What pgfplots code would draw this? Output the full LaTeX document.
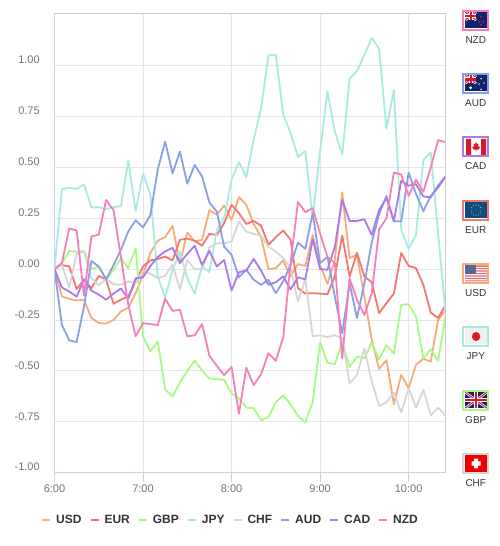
\documentclass[border=0pt]{standalone}
\usepackage{pgfplots}
\pgfplotsset{compat=1.18}
\usepackage{fontspec}
\setmainfont{Liberation Sans}
\definecolor{cUSD}{HTML}{F7AB76}
\definecolor{cEUR}{HTML}{F4776D}
\definecolor{cGBP}{HTML}{A5FB84}
\definecolor{cJPY}{HTML}{A8EBE0}
\definecolor{cCHF}{HTML}{D6D6D6}
\definecolor{cAUD}{HTML}{8A9FEA}
\definecolor{cCAD}{HTML}{A97AE8}
\definecolor{cNZD}{HTML}{F67FB9}
\definecolor{axisblue}{HTML}{C6D2EA}
\definecolor{flagblue}{HTML}{10246E}
\definecolor{flagred}{HTML}{D8182C}
\definecolor{eublue}{HTML}{0F4C81}
% one small flag: #1 = top of the frame in picture px, #2 = colour, #3 = label, #4 = drawing
\newcommand{\flagbox}[4]{%
  \begin{scope}[shift={(407.8pt,{459pt+14pt-#1pt-21pt})}]
    \fill[white] (0,0) rectangle (27pt,21pt);
    \begin{scope}[shift={(2.8pt,2.5pt)},yscale=1.0667]
      \clip (0,0) rectangle (22pt,15pt);
      #4
    \end{scope}
    \draw[#2,line width=2pt] (1pt,1pt) rectangle (26pt,20pt);
    \node[font=\fontsize{10}{12}\selectfont,text=black!80,anchor=center] at (13.5pt,-9pt) {#3};
  \end{scope}}
\newcommand{\ukcorner}{%
  \fill[flagblue] (0,0) rectangle (22pt,15pt);
  \draw[white,line width=2.4pt] (0,0)--(22pt,15pt) (0,15pt)--(22pt,0);
  \draw[flagred,line width=1pt] (0,0)--(22pt,15pt) (0,15pt)--(22pt,0);
  \draw[white,line width=4pt] (11pt,0)--(11pt,15pt) (0,7.5pt)--(22pt,7.5pt);
  \draw[flagred,line width=2.2pt] (11pt,0)--(11pt,15pt) (0,7.5pt)--(22pt,7.5pt);}
\newcommand{\ausjack}{%
  \fill[flagblue] (0,0) rectangle (22pt,15pt);
  \begin{scope}[shift={(0,7.5pt)},scale=.5]\ukcorner\end{scope}}
\begin{document}
\begin{tikzpicture}[x=1pt,y=1pt]
\useasboundingbox (-54.5pt,-73.3pt) rectangle (445.5pt,472.7pt);
\begin{axis}[
  at={(0pt,0pt)},anchor=south west,
  scale only axis,width=391pt,height=459pt,
  xmin=0,xmax=53,ymin=-1,ymax=1.255,
  axis line style={draw=none},
  grid=major,
  major grid style={draw=black!10,line width=1pt},
  xtick={0,12,24,36,48},
  xticklabels={6:00,7:00,8:00,9:00,10:00},
  ytick={-1,-0.75,-0.5,-0.25,0,0.25,0.5,0.75,1},
  yticklabels={-1.00,-0.75,-0.50,-0.25,0.00,0.25,0.50,0.75,1.00},
  xtick align=outside,
  xtick pos=bottom,
  ytick pos=left,
  major tick length=9pt,
  x tick style={draw=axisblue,line width=1pt},
  y tick style={draw=none},
  xticklabel style={font=\fontsize{11}{13}\selectfont,text=black!55,yshift=0pt},
  yticklabel style={font=\fontsize{11}{13}\selectfont,text=black!55,yshift=5.5pt,xshift=-11.3pt},
  legend style={at={(0.4476,-0.103)},anchor=center,draw=none,fill=none,
    font=\fontsize{12}{14}\selectfont\bfseries,text=black!80,
    legend columns=-1,
    /tikz/every even column/.append style={column sep=8pt},
    /tikz/every odd column/.append style={column sep=0pt},
    nodes={inner xsep=0pt,inner ysep=1pt}},
  legend image code/.code={\draw[#1,line width=2pt] (0pt,0pt)--(8pt,0pt);},
  every axis plot/.append style={line width=1.8pt,no markers,line join=round},
  clip mode=individual,
]
\addplot[cUSD] coordinates {(0,0)(1,-.134)(2,-.146)(3,-.154)(4,-.15)(5,-.24)(6,-.265)(7,-.267)(8,-.25)(9,-.208)(10,-.19)(11,-.118)(12,-.028)(13,.08)(14,.14)(15,.157)(16,.213)(17,.03)(18,.18)(19,.136)(20,.144)(21,.29)(22,.267)(23,.313)(24,.242)(25,.354)(26,.316)(27,.222)(28,.157)(29,0)(30,.005)(31,.043)(32,-.036)(33,.025)(34,.016)(35,.168)(36,.02)(37,-.072)(38,.046)(39,.378)(40,.054)(41,.07)(42,-.134)(43,-.347)(44,-.49)(45,-.447)(46,-.664)(47,-.52)(48,-.585)(49,-.47)(50,-.44)(51,-.455)(52,-.25)(53,-.2)};
\addlegendentry{\hspace{5pt}USD}
\addplot[cEUR] coordinates {(0,0)(1,.02)(2,.013)(3,-.098)(4,-.052)(5,-.093)(6,-.033)(7,-.052)(8,-.17)(9,-.15)(10,-.134)(11,-.06)(12,.013)(13,.043)(14,.05)(15,.062)(16,.043)(17,.144)(18,.15)(19,.14)(20,.115)(21,.173)(22,.168)(23,.226)(24,.316)(25,.275)(26,.222)(27,.237)(28,.214)(29,.12)(30,.157)(31,.19)(32,.144)(33,-.093)(34,-.12)(35,-.118)(36,-.12)(37,-.123)(38,-.036)(39,.165)(40,-.036)(41,.08)(42,-.036)(43,-.064)(44,-.216)(45,-.167)(46,-.12)(47,.08)(48,.016)(49,.005)(50,-.077)(51,-.213)(52,-.24)(53,-.175)};
\addlegendentry{\hspace{5pt}EUR}
\addplot[cGBP] coordinates {(0,0)(1,.03)(2,.09)(3,.085)(4,.09)(5,0)(6,.013)(7,-.05)(8,-.003)(9,.054)(10,.005)(11,.103)(12,-.33)(13,-.404)(14,-.355)(15,-.59)(16,-.626)(17,-.557)(18,-.5)(19,-.45)(20,-.497)(21,-.538)(22,-.54)(23,-.544)(24,-.61)(25,-.636)(26,-.68)(27,-.683)(28,-.742)(29,-.727)(30,-.655)(31,-.62)(32,-.664)(33,-.72)(34,-.754)(35,-.652)(36,-.36)(37,-.46)(38,-.467)(39,-.36)(40,-.48)(41,-.43)(42,-.438)(43,-.36)(44,-.443)(45,-.374)(46,-.415)(47,-.175)(48,-.172)(49,-.233)(50,-.44)(51,-.394)(52,-.45)(53,-.233)};
\addlegendentry{\hspace{5pt}GBP}
\addplot[cJPY] coordinates {(0,0)(1,.393)(2,.40)(3,.394)(4,.416)(5,.303)(6,.304)(7,.295)(8,.304)(9,.31)(10,.534)(11,.286)(12,.47)(13,.365)(14,-.036)(15,-.142)(16,-.003)(17,.087)(18,-.044)(19,-.12)(20,.013)(21,-.015)(22,.193)(23,.25)(24,.44)(25,.525)(26,.452)(27,.636)(28,.79)(29,1.05)(30,1.054)(31,.76)(32,.67)(33,.55)(34,.58)(35,.25)(36,.58)(37,.873)(38,.677)(39,.563)(40,.936)(41,.972)(42,1.054)(43,1.136)(44,1.083)(45,.69)(46,.879)(47,.193)(48,.10)(49,.168)(50,.537)(51,.573)(52,.177)(53,-.216)};
\addlegendentry{\hspace{5pt}JPY}
\addplot[cCHF] coordinates {(0,0)(1,.02)(2,-.09)(3,.075)(4,.087)(5,-.044)(6,-.08)(7,-.047)(8,-.074)(9,-.077)(10,-.06)(11,-.07)(12,-.007)(13,-.023)(14,-.044)(15,-.033)(16,.023)(17,-.10)(18,.045)(19,0)(20,0)(21,.106)(22,.127)(23,.127)(24,.136)(25,.234)(26,.185)(27,.173)(28,.165)(29,.11)(30,.087)(31,.054)(32,.005)(33,-.16)(34,-.05)(35,-.33)(36,-.325)(37,-.334)(38,-.325)(39,-.34)(40,-.562)(41,-.52)(42,-.39)(43,-.55)(44,-.672)(45,-.655)(46,-.606)(47,-.705)(48,-.585)(49,-.68)(50,-.593)(51,-.718)(52,-.68)(53,-.72)};
\addlegendentry{\hspace{5pt}CHF}
\addplot[cAUD] coordinates {(0,0)(1,-.273)(2,-.35)(3,-.358)(4,-.183)(5,.04)(6,.013)(7,-.05)(8,.02)(9,.095)(10,.185)(11,.24)(12,.205)(13,.265)(14,.49)(15,.627)(16,.47)(17,.578)(18,.42)(19,.512)(20,.455)(21,.327)(22,.283)(23,.11)(24,.07)(25,-.04)(26,-.003)(27,-.052)(28,-.077)(29,-.052)(30,-.118)(31,-.06)(32,.02)(33,.13)(34,.10)(35,.275)(36,.03)(37,.06)(38,-.135)(39,-.315)(40,-.07)(41,-.24)(42,-.07)(43,.13)(44,.27)(45,.36)(46,.235)(47,.235)(48,.475)(49,.37)(50,.285)(51,.36)(52,.40)(53,.455)};
\addlegendentry{\hspace{5pt}AUD}
\addplot[cCAD] coordinates {(0,0)(1,-.09)(2,-.11)(3,-.135)(4,-.05)(5,-.105)(6,-.125)(7,-.15)(8,-.12)(9,-.095)(10,-.145)(11,-.045)(12,-.04)(13,.015)(14,.06)(15,.087)(16,.105)(17,.03)(18,.075)(19,.115)(20,.02)(21,.09)(22,.013)(23,.045)(24,-.105)(25,-.015)(26,-.007)(27,.05)(28,-.007)(29,-.077)(30,-.064)(31,-.036)(32,-.10)(33,-.04)(34,-.05)(35,.147)(36,0)(37,-.003)(38,.11)(39,.34)(40,.237)(41,.237)(42,.245)(43,.168)(44,.29)(45,.35)(46,.235)(47,.434)(48,.41)(49,.417)(50,.357)(51,.353)(52,.41)(53,.455)};
\addlegendentry{\hspace{5pt}CAD}
\addplot[cNZD] coordinates {(0,0)(1,.03)(2,.20)(3,.19)(4,-.13)(5,.16)(6,.17)(7,.34)(8,.29)(9,.06)(10,-.175)(11,-.33)(12,-.265)(13,-.27)(14,-.275)(15,-.145)(16,-.205)(17,-.20)(18,-.33)(19,-.325)(20,-.27)(21,-.426)(22,-.475)(23,-.52)(24,-.48)(25,-.71)(26,-.484)(27,-.57)(28,-.516)(29,-.413)(30,-.45)(31,-.335)(32,.03)(33,.33)(34,.28)(35,.30)(36,.175)(37,.06)(38,.03)(39,-.44)(40,-.045)(41,-.15)(42,-.225)(43,-.12)(44,.195)(45,.25)(46,.475)(47,.465)(48,.36)(49,.44)(50,.38)(51,.50)(52,.634)(53,.624)};
\addlegendentry{\hspace{5pt}NZD}
\end{axis}
% plot frame
\draw[color=black!20,line width=1pt] (0pt,459pt)--(391pt,459pt)--(391pt,0pt);
\draw[color=axisblue,line width=1pt] (0pt,459pt)--(0pt,0pt)--(391pt,0pt);
% currency flags
\flagbox{10}{cNZD}{NZD}{\ausjack
  \fill[flagred] (16pt,11pt) circle (.9pt) (18pt,6pt) circle (.9pt) (14pt,6pt) circle (.9pt) (16pt,3pt) circle (.9pt);}
\flagbox{73.3}{cAUD}{AUD}{\ausjack
  \fill[white] (5.5pt,3.5pt) circle (1.4pt) (16pt,12pt) circle (.8pt) (19pt,8pt) circle (.8pt) (14pt,7pt) circle (.8pt) (16pt,2pt) circle (.8pt);}
\flagbox{136.7}{cCAD}{CAD}{\fill[white] (0,0) rectangle (22pt,15pt);
  \fill[flagred] (1pt,0) rectangle (6pt,15pt) (16pt,0) rectangle (21pt,15pt);
  \fill[flagred] (11pt,12pt)--(12pt,10pt)--(13.5pt,10.5pt)--(13pt,8pt)--(15pt,7.5pt)--(13.5pt,5pt)--(11.3pt,5pt)--(11.3pt,3pt)--(10.7pt,3pt)--(10.7pt,5pt)--(8.5pt,5pt)--(7pt,7.5pt)--(9pt,8pt)--(8.5pt,10.5pt)--(10pt,10pt)--cycle;}
\flagbox{200}{cEUR}{EUR}{\fill[eublue] (0,0) rectangle (22pt,15pt);
  \foreach \a in {0,30,...,330}{\fill[yellow!70!black] (11pt,7.5pt)++(\a:5pt) circle (.6pt);}}
\flagbox{263.3}{cUSD}{USD}{\fill[white] (0,0) rectangle (22pt,15pt);
  \fill[flagred!65] (0,0) rectangle (22pt,1.15pt) (0,2.3pt) rectangle (22pt,3.45pt) (0,4.6pt) rectangle (22pt,5.75pt) (0,6.9pt) rectangle (22pt,8.05pt) (0,9.2pt) rectangle (22pt,10.35pt) (0,11.5pt) rectangle (22pt,12.65pt) (0,13.8pt) rectangle (22pt,15pt);
  \fill[flagblue!70] (0,7pt) rectangle (11pt,15pt);}
\flagbox{326.3}{cJPY}{JPY}{\fill[white!94!black] (0,0) rectangle (22pt,15pt);
  \fill[flagred] (11pt,7.5pt) circle (4.2pt);}
\flagbox{390}{cGBP}{GBP}{\ukcorner}
\flagbox{453.3}{cCHF}{CHF}{\fill[red!95!black] (0,0) rectangle (22pt,15pt);
  \fill[white] (9pt,3pt) rectangle (13pt,12pt) (6.5pt,5.5pt) rectangle (15.5pt,9.5pt);}
\end{tikzpicture}
\end{document}
